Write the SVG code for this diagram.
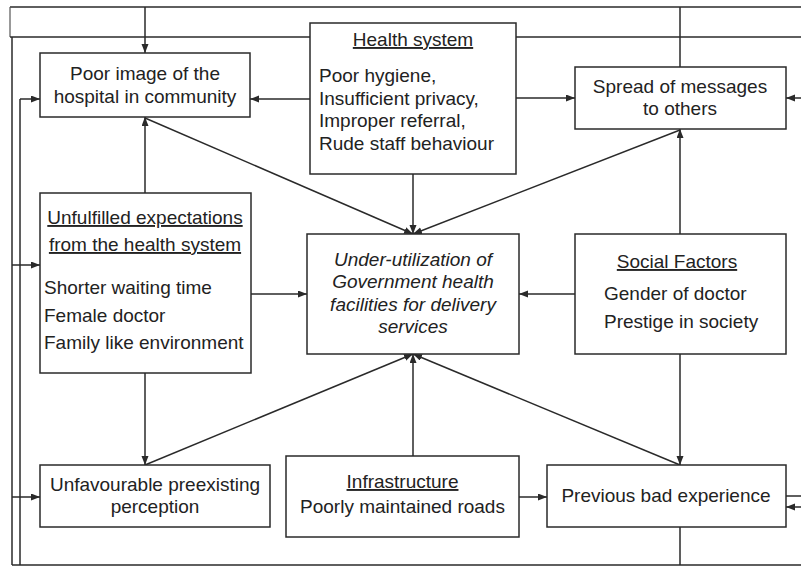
<svg xmlns="http://www.w3.org/2000/svg" width="801" height="566" viewBox="0 0 801 566">
<style>
.box{fill:#fff;stroke:#2a2a2a;stroke-width:1.5}
.ln{fill:none;stroke:#2a2a2a;stroke-width:1.5}
.thin{fill:none;stroke:#555;stroke-width:1.2}
text{font-family:"Liberation Sans",Arial,sans-serif;font-size:19px;fill:#222}
.c{text-anchor:middle}
.u{text-decoration:underline}
.i{font-style:italic}
</style>
<defs>
<marker id="ah" markerUnits="userSpaceOnUse" markerWidth="10" markerHeight="8" refX="9" refY="3.5" orient="auto">
<path d="M0,0 L9,3.5 L0,7 z" fill="#2a2a2a"/>
</marker>
</defs>
<rect width="801" height="566" fill="#fff"/>
<g id="connectors">
<!-- outer frame lines -->
<path class="ln" d="M10,7 H801"/>
<path class="thin" d="M10,7 V37"/>
<path class="ln" d="M10,37 H310"/>
<path class="ln" d="M516,37 H801"/>
<path class="ln" d="M12,37 V565"/>
<path class="ln" d="M12,565 H801"/>
<path class="ln" d="M20,99 V565"/>
<path class="ln" d="M680,527 V565"/>
<path class="ln" d="M680,7 V67"/>
<path class="ln" d="M145,7 V53" marker-end="url(#ah)"/>
<path class="ln" d="M20,99 H40" marker-end="url(#ah)"/>
<path class="ln" d="M12,265 H40" marker-end="url(#ah)"/>
<path class="ln" d="M12,497 H40" marker-end="url(#ah)"/>
<path class="ln" d="M801,98 H786" marker-end="url(#ah)"/>
<path class="ln" d="M786,496 H801"/>
<path class="ln" d="M801,507 H786" marker-end="url(#ah)"/>
<!-- node connectors -->
<path class="ln" d="M310,99 H250" marker-end="url(#ah)"/>
<path class="ln" d="M516,98 H575" marker-end="url(#ah)"/>
<path class="ln" d="M413,174 V234" marker-end="url(#ah)"/>
<path class="ln" d="M145,118 L413,234" marker-end="url(#ah)"/>
<path class="ln" d="M680,130 L413,234" marker-end="url(#ah)"/>
<path class="ln" d="M145,465 L413,354" marker-end="url(#ah)"/>
<path class="ln" d="M680,465 L413,354" marker-end="url(#ah)"/>
<path class="ln" d="M145,193 V117" marker-end="url(#ah)"/>
<path class="ln" d="M145,373 V465" marker-end="url(#ah)"/>
<path class="ln" d="M251,294 H307" marker-end="url(#ah)"/>
<path class="ln" d="M575,294 H519" marker-end="url(#ah)"/>
<path class="ln" d="M680,234 V129" marker-end="url(#ah)"/>
<path class="ln" d="M680,354 V465" marker-end="url(#ah)"/>
<path class="ln" d="M413,456 V354" marker-end="url(#ah)"/>
<path class="ln" d="M519,497 H547" marker-end="url(#ah)"/>
</g>
<g id="poor-image">
<rect class="box" x="40" y="53" width="210" height="64"/>
<text class="c" x="145" y="80">Poor image of the</text>
<text class="c" x="145" y="103">hospital in community</text>
</g>
<g id="health-system">
<rect class="box" x="310" y="23" width="206" height="151"/>
<text class="c u" x="413" y="46">Health system</text>
<text x="319" y="82">Poor hygiene,</text>
<text x="319" y="104.5">Insufficient privacy,</text>
<text x="319" y="127">Improper referral,</text>
<text x="319" y="149.5">Rude staff behaviour</text>
</g>
<g id="spread">
<rect class="box" x="575" y="67" width="211" height="62"/>
<text class="c" x="680" y="93">Spread of messages</text>
<text class="c" x="680" y="115">to others</text>
</g>
<g id="unfulfilled">
<rect class="box" x="40" y="193" width="211" height="180"/>
<text class="c u" x="145" y="224">Unfulfilled expectations</text>
<text class="c u" x="145" y="251">from the health system</text>
<text x="44" y="294">Shorter waiting time</text>
<text x="44" y="322">Female doctor</text>
<text x="44" y="349">Family like environment</text>
</g>
<g id="under-utilization">
<rect class="box" x="307" y="234" width="212" height="120"/>
<text class="c i" x="413" y="265.5">Under-utilization of</text>
<text class="c i" x="413" y="288">Government health</text>
<text class="c i" x="413" y="311">facilities for delivery</text>
<text class="c i" x="413" y="333">services</text>
</g>
<g id="social">
<rect class="box" x="575" y="234" width="211" height="120"/>
<text class="c u" x="677" y="268">Social Factors</text>
<text x="604" y="300">Gender of doctor</text>
<text x="604" y="328">Prestige in society</text>
</g>
<g id="unfavourable">
<rect class="box" x="40" y="465" width="230" height="62"/>
<text class="c" x="155" y="491">Unfavourable preexisting</text>
<text class="c" x="155" y="513">perception</text>
</g>
<g id="infrastructure">
<rect class="box" x="286" y="456" width="233" height="81"/>
<text class="c u" x="402.5" y="488">Infrastructure</text>
<text class="c" x="402.5" y="513">Poorly maintained roads</text>
</g>
<g id="previous-bad">
<rect class="box" x="547" y="465" width="239" height="62"/>
<text class="c" x="666" y="502">Previous bad experience</text>
</g>
</svg>
